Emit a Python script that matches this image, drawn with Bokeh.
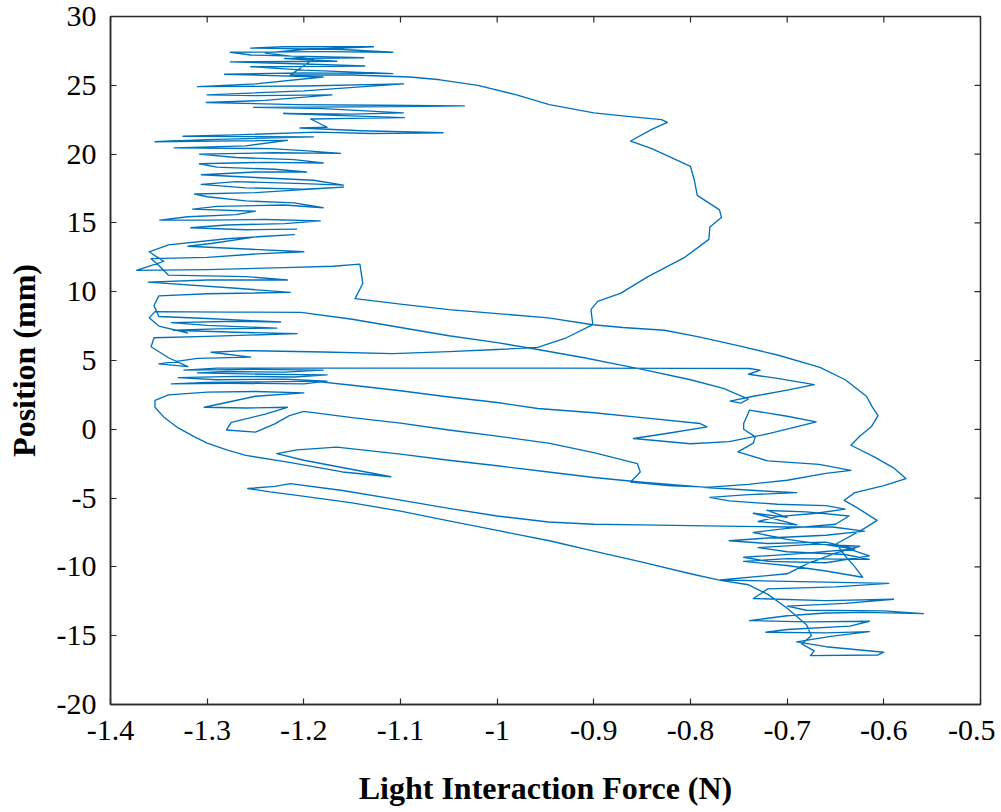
import math
from bokeh.plotting import figure
from bokeh.models import FixedTicker, Range1d
from bokeh.embed import file_html
from bokeh.resources import INLINE

# ---- axis ticks ----
x_ticks = [-1.4, -1.3, -1.2, -1.1, -1.0, -0.9, -0.8, -0.7, -0.6, -0.5]
x_tick_labels = ["-1.4", "-1.3", "-1.2", "-1.1", "-1", "-0.9", "-0.8", "-0.7", "-0.6", "-0.5"]
y_ticks = [-20, -15, -10, -5, 0, 5, 10, 15, 20, 25, 30]
y_tick_labels = ["-20", "-15", "-10", "-5", "0", "5", "10", "15", "20", "25", "30"]

# ---- trajectory (force N, position mm), in time order ----
midleft_upper = [(-1.207,14.55),(-1.26,14.5),(-1.317,14.65),(-1.28,14.85),(-1.22,14.95),(-1.183,15.15),(-1.24,15.25),(-1.30,15.2),(-1.349,15.2),(-1.32,15.45),(-1.27,15.6),(-1.25,15.85),(-1.315,16.0),(-1.29,16.2),(-1.22,16.3),(-1.18,16.1),(-1.21,16.45),(-1.26,16.6),(-1.30,16.9),(-1.313,17.1),(-1.25,17.2),(-1.159,17.6),(-1.20,17.45),(-1.26,17.55),(-1.306,17.8),(-1.27,18.0),(-1.20,17.85),(-1.159,17.75),(-1.19,18.1),(-1.25,18.3),(-1.306,18.5),(-1.25,18.7),(-1.197,18.7),(-1.23,18.9),(-1.29,19.05),(-1.308,19.3),(-1.24,19.4),(-1.18,19.35),(-1.21,19.6),(-1.27,19.75),(-1.308,20.0),(-1.23,20.1),(-1.162,20.05),(-1.20,20.25),(-1.234,20.4)]

top_cluster = [(-1.334,20.45),(-1.26,20.6),(-1.217,21.0),(-1.354,20.9),(-1.30,21.05),(-1.19,21.25),(-1.325,21.3),(-1.27,21.4),(-1.186,21.6),(-1.13,21.5),(-1.056,21.55),(-1.14,21.7),(-1.204,21.9),(-1.176,21.95),(-1.193,22.55),(-1.15,22.6),(-1.096,22.65),(-1.16,22.8),(-1.221,22.95),(-1.15,22.9),(-1.097,23.0),(-1.18,23.3),(-1.252,23.4),(-1.10,23.45),(-1.034,23.5),(-1.12,23.55),(-1.207,23.6),(-1.301,23.75),(-1.24,23.9),(-1.171,24.3),(-1.25,24.25),(-1.30,24.3),(-1.20,24.6),(-1.097,25.1),(-1.20,24.95),(-1.31,24.9),(-1.25,25.1),(-1.18,25.6),(-1.282,25.8),(-1.20,25.9),(-1.108,25.85),(-1.20,26.1),(-1.255,26.35),(-1.137,26.4),(-1.20,26.55),(-1.276,26.7),(-1.166,26.75),(-1.22,26.95),(-1.138,27.0),(-1.255,27.2),(-1.276,27.4),(-1.18,27.45),(-1.108,27.4),(-1.16,27.6),(-1.255,27.7),(-1.22,27.8),(-1.128,27.8),(-1.20,27.6),(-1.24,27.35),(-1.19,26.9),(-1.214,25.75)]

bulge_and_return = [(-1.15,25.75),(-1.09,25.6),(-1.059,25.4),(-1.02,25.0),(-0.98,24.3),(-0.946,23.6),(-0.90,23.0),(-0.86,22.7),(-0.83,22.5),(-0.824,22.3),(-0.84,21.8),(-0.862,20.95),(-0.84,20.4),(-0.80,19.1),(-0.796,18.1),(-0.793,17.0),(-0.77,15.95),(-0.768,15.4),(-0.78,14.7),(-0.781,13.8),(-0.806,12.5),(-0.844,11.1),(-0.872,9.9),(-0.896,9.3),(-0.903,8.7),(-0.901,7.6),(-0.93,6.6),(-0.958,5.95),(-1.00,5.8),(-1.05,5.65),(-1.108,5.5)]

left_upper = [(-1.18,5.62),(-1.26,5.72),(-1.296,5.6),(-1.255,5.25),(-1.31,5.15),(-1.35,4.75),(-1.32,4.55),(-1.34,5.2),(-1.358,6.0),(-1.355,6.65),(-1.30,6.75),(-1.207,6.95),(-1.27,7.05),(-1.335,7.2),(-1.29,7.3),(-1.228,7.35),(-1.30,7.55),(-1.337,7.75),(-1.27,7.85),(-1.224,7.8),(-1.30,8.05),(-1.35,8.2),(-1.355,9.0),(-1.35,9.7),(-1.30,9.85),(-1.214,9.95),(-1.27,10.25),(-1.361,10.7),(-1.30,10.85),(-1.217,10.85),(-1.26,11.1),(-1.34,11.2),(-1.35,11.9),(-1.358,12.4),(-1.30,12.5),(-1.248,12.75),(-1.20,12.9),(-1.26,13.1),(-1.32,13.3),(-1.296,13.5),(-1.248,14.0),(-1.21,14.15),(-1.28,13.85),(-1.34,13.4),(-1.36,12.9),(-1.345,12.2),(-1.373,11.55),(-1.30,11.6),(-1.22,11.75),(-1.17,11.85),(-1.142,12.0)]

sweep_a = [(-1.139,10.6),(-1.147,9.5),(-1.10,9.1),(-1.05,8.7),(-0.99,8.35),(-0.947,8.1),(-0.901,7.6),(-0.87,7.4),(-0.827,7.2),(-0.79,6.7),(-0.752,6.1),(-0.71,5.4),(-0.666,4.5),(-0.64,3.6),(-0.618,2.4),(-0.612,1.63),(-0.606,1.0),(-0.613,0.18),(-0.625,-0.5),(-0.634,-1.16),(-0.61,-2.0),(-0.59,-2.8),(-0.577,-3.59),(-0.60,-4.1),(-0.63,-4.6),(-0.641,-5.16),(-0.63,-5.6),(-0.607,-6.62),(-0.62,-7.2),(-0.649,-8.32),(-0.64,-9.2),(-0.63,-10.0),(-0.622,-10.75)]

bottom_cluster = [(-0.66,-10.3),(-0.70,-9.9),(-0.745,-9.6),(-0.70,-9.4),(-0.615,-9.45),(-0.64,-9.1),(-0.70,-8.9),(-0.73,-8.6),(-0.67,-8.35),(-0.625,-8.5),(-0.65,-9.0),(-0.68,-9.8),(-0.70,-10.5),(-0.769,-10.95),(-0.70,-11.05),(-0.595,-11.2),(-0.65,-11.45),(-0.72,-11.6),(-0.735,-12.3),(-0.66,-12.45),(-0.59,-12.35),(-0.64,-12.65),(-0.70,-12.85),(-0.68,-13.15),(-0.60,-13.2),(-0.559,-13.4),(-0.62,-13.3),(-0.66,-13.35),(-0.70,-13.55),(-0.739,-13.9),(-0.68,-14.0),(-0.615,-13.95),(-0.635,-14.3),(-0.70,-14.55),(-0.722,-14.75),(-0.66,-14.8),(-0.615,-14.7),(-0.655,-15.05),(-0.69,-15.45),(-0.66,-15.8),(-0.60,-16.2),(-0.606,-16.4),(-0.676,-16.45),(-0.672,-16.1),(-0.685,-15.6),(-0.675,-15.0),(-0.68,-14.2),(-0.70,-13.0),(-0.72,-12.0),(-0.74,-11.3),(-0.769,-10.98)]

sweeps_g_f = [(-0.80,-10.5),(-0.85,-9.65),(-0.90,-8.85),(-0.946,-8.1),(-1.00,-7.35),(-1.05,-6.65),(-1.10,-5.95),(-1.15,-5.35),(-1.207,-4.8),(-1.235,-4.55),(-1.258,-4.3),(-1.23,-4.15),(-1.214,-3.95),(-1.16,-4.45),(-1.10,-5.15),(-1.05,-5.75),(-1.00,-6.3),(-0.947,-6.74),(-0.90,-6.9),(-0.85,-6.95),(-0.80,-7.0),(-0.75,-7.05),(-0.70,-7.1),(-0.653,-7.1)]

right_mid_loops = [(-0.62,-7.4),(-0.66,-7.7),(-0.72,-7.9),(-0.76,-8.1),(-0.72,-8.3),(-0.66,-8.2),(-0.63,-8.7),(-0.68,-9.0),(-0.745,-9.3),(-0.72,-9.6),(-0.66,-9.7),(-0.615,-9.2),(-0.64,-8.6),(-0.70,-8.0),(-0.735,-7.5),(-0.70,-7.2),(-0.65,-6.9),(-0.636,-6.3),(-0.68,-6.0),(-0.721,-5.9),(-0.70,-6.4),(-0.735,-6.1)]

right_mid_sweep_e = [(-0.69,-6.95),(-0.73,-6.7),(-0.71,-6.35),(-0.67,-6.1),(-0.64,-5.8),(-0.66,-5.55),(-0.71,-5.45),(-0.76,-5.2),(-0.78,-4.95),(-0.74,-4.75),(-0.69,-4.6),(-0.72,-4.5),(-0.78,-4.25),(-0.85,-3.85),(-0.90,-3.5),(-0.947,-3.1),(-1.00,-2.65),(-1.05,-2.25),(-1.10,-1.8),(-1.166,-1.3),(-1.207,-1.5),(-1.228,-1.77),(-1.20,-2.25),(-1.11,-3.45),(-1.16,-3.1),(-1.215,-2.4),(-1.26,-1.9),(-1.279,-1.52),(-1.30,-1.0),(-1.313,-0.55),(-1.33,0.1),(-1.345,0.9),(-1.354,1.6),(-1.354,2.1),(-1.34,2.5),(-1.30,2.7),(-1.25,2.75)]

left_lower_sweep_d = [(-1.20,2.65),(-1.25,2.4),(-1.303,1.6),(-1.26,1.55),(-1.217,1.6),(-1.24,1.1),(-1.275,0.5),(-1.28,-0.05),(-1.25,-0.2),(-1.23,0.4),(-1.215,1.0),(-1.20,1.3),(-1.15,0.85),(-1.10,0.45),(-1.05,-0.05),(-1.00,-0.5),(-0.947,-1.0),(-0.90,-1.7),(-0.855,-2.49),(-0.852,-3.1),(-0.862,-3.83)]

right_upper_sweep_c = [(-0.82,-4.1),(-0.78,-4.2),(-0.74,-4.0),(-0.70,-3.7),(-0.66,-3.2),(-0.634,-2.98),(-0.667,-2.55),(-0.72,-2.3),(-0.751,-1.64),(-0.735,-1.0),(-0.733,-0.55),(-0.745,0.0),(-0.745,0.42),(-0.742,0.9),(-0.739,1.39),(-0.70,0.95),(-0.670,0.54),(-0.695,0.1),(-0.718,-0.3),(-0.76,-0.9),(-0.80,-1.05),(-0.859,-0.67),(-0.82,-0.25),(-0.783,0.18),(-0.79,0.42),(-0.85,0.85),(-0.90,1.2),(-0.958,1.51),(-1.00,1.95),(-1.05,2.35),(-1.10,2.8),(-1.15,3.2),(-1.19,3.5)]

band_h_sweep_b2 = [(-1.24,3.45),(-1.30,3.4),(-1.337,3.3),(-1.28,3.35),(-1.20,3.3),(-1.176,3.5),(-1.22,3.65),(-1.29,3.6),(-1.33,3.75),(-1.27,3.85),(-1.21,3.8),(-1.176,3.95),(-1.24,4.0),(-1.31,4.1),(-1.28,4.2),(-1.22,4.15),(-1.18,4.3),(-1.25,4.35),(-1.324,4.3),(-1.29,4.45),(-1.25,4.45),(-1.10,4.45),(-0.95,4.45),(-0.80,4.43),(-0.739,4.42),(-0.728,4.3),(-0.740,4.0),(-0.71,3.7),(-0.672,3.25),(-0.70,2.85),(-0.735,2.4),(-0.759,2.05),(-0.748,1.9),(-0.74,2.2),(-0.766,2.97),(-0.80,3.6),(-0.85,4.35),(-0.872,4.67),(-0.91,5.2),(-0.958,5.8),(-1.00,6.3),(-1.05,6.8),(-1.10,7.4),(-1.15,8.0),(-1.203,8.5),(-1.28,8.52),(-1.354,8.55),(-1.36,8.1),(-1.35,7.5),(-1.32,7.0)]

segments = [midleft_upper, top_cluster, bulge_and_return, left_upper, sweep_a,
            bottom_cluster, sweeps_g_f, right_mid_loops, right_mid_sweep_e,
            left_lower_sweep_d, right_upper_sweep_c, band_h_sweep_b2]
force = [pt[0] for seg in segments for pt in seg]
position = [pt[1] for seg in segments for pt in seg]

AX = "#2b2b2b"
X_MIN, X_MAX, Y_MIN, Y_MAX = -1.4, -0.5, -20, 30

p = figure(width=995, height=811,
           x_range=Range1d(X_MIN, X_MAX), y_range=Range1d(Y_MIN, Y_MAX),
           output_backend="svg", toolbar_location=None,
           min_border_left=110, min_border_right=15, min_border_top=16, min_border_bottom=107)
p.background_fill_color = "white"
p.border_fill_color = "white"
p.outline_line_color = AX
p.outline_line_width = 1.5
p.grid.visible = False

p.line(force, position, line_color="#0072BD", line_width=1.35, line_join="round")

# inward ticks on the top and right edges of the box (clipped to the frame)
p.scatter([X_MAX] * len(y_ticks), y_ticks, marker="dash", size=12,
          line_color=AX, line_width=1.2)
p.scatter(x_ticks, [Y_MAX] * len(x_ticks), marker="dash", size=12, angle=math.pi / 2,
          line_color=AX, line_width=1.2)

p.xaxis.ticker = FixedTicker(ticks=x_ticks)
p.xaxis.major_label_overrides = dict(zip(x_ticks, x_tick_labels))
p.yaxis.ticker = FixedTicker(ticks=y_ticks)
p.yaxis.major_label_overrides = dict(zip(y_ticks, y_tick_labels))
p.xaxis.axis_label = "Light Interaction Force (N)"
p.yaxis.axis_label = "Position (mm)"

for ax in [p.xaxis[0], p.yaxis[0]]:
    ax.axis_line_color = AX
    ax.axis_line_width = 1.5
    ax.major_tick_line_color = AX
    ax.major_tick_line_width = 1.2
    ax.major_tick_in = 6
    ax.major_tick_out = 0
    ax.minor_tick_line_color = None
    ax.major_label_text_font = "Liberation Serif"
    ax.major_label_text_font_size = "30px"
    ax.major_label_text_color = "black"
    ax.axis_label_text_font = "Liberation Serif"
    ax.axis_label_text_font_style = "bold"
    ax.axis_label_text_font_size = "32px"
    ax.axis_label_text_color = "black"

p.xaxis.major_label_standoff = 16
p.xaxis.axis_label_standoff = 27
p.yaxis.major_label_standoff = 14
p.yaxis.axis_label_standoff = 12

open("out.html", "w").write(file_html(p, INLINE))
